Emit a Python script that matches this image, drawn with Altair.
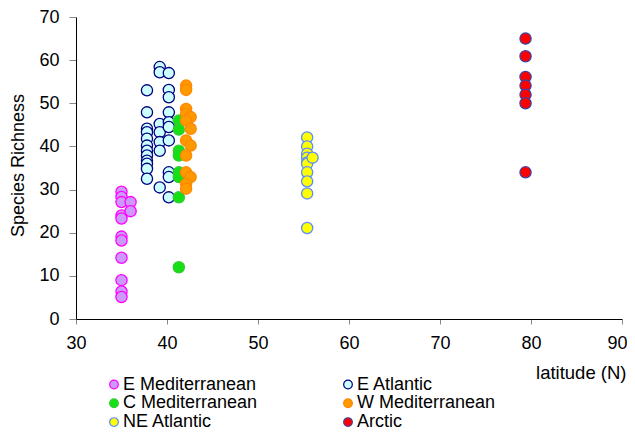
import altair as alt
import pandas as pd

regions = ["E Mediterranean", "E Atlantic", "C Mediterranean",
           "W Mediterranean", "NE Atlantic", "Arctic"]
fills = ["#CC99FF", "#CCFFFF", "#14E014", "#FF9900", "#FFFF00", "#FF0000"]
strokes = ["#FF00FF", "#000080", "#33CC33", "#FF8800", "#5B8CFF", "#4040A0"]
# legend is laid out column by column (3 rows, 2 columns)
legend_order = ["E Mediterranean", "C Mediterranean", "NE Atlantic",
                "E Atlantic", "W Mediterranean", "Arctic"]

e_med_lat = [35.0] * 11 + [36.0, 36.0]
e_med_sr = [29.5, 28.3, 27.1, 24.0, 23.3, 19.1, 18.2, 14.2, 9.0, 6.4, 5.1, 27.1, 25.0]

e_atl_lat = [37.8] * 12 + [39.2] * 7 + [40.2] * 10
e_atl_sr = [53.0, 47.9, 44.1, 43.3, 41.8, 40.2, 39.0, 37.9, 36.7, 36.0, 34.8, 32.5,
            58.4, 57.2, 45.2, 43.3, 41.0, 39.0, 30.5,
            57.0, 53.1, 51.4, 47.9, 45.6, 44.5, 41.4, 34.0, 32.9, 28.2]

c_med_lat = [41.3] * 8
c_med_sr = [46.0, 43.9, 39.0, 37.9, 34.0, 32.9, 28.2, 12.0]

w_med_lat = [42.1, 42.1, 42.1, 42.1, 42.6, 42.1, 42.6, 42.1, 42.6, 42.1, 42.1, 42.6, 42.1, 42.1]
w_med_sr = [54.1, 53.1, 48.7, 47.6, 46.8, 46.0, 44.1, 41.4, 40.2, 37.9, 34.0, 32.9, 31.3, 30.2]

ne_atl_lat = [55.4] * 10 + [56.0]
ne_atl_sr = [42.1, 40.0, 38.3, 37.4, 36.3, 36.0, 34.0, 31.9, 29.1, 21.1, 37.4]

arctic_lat = [79.4] * 7
arctic_sr = [65.0, 60.9, 56.1, 54.1, 52.0, 50.0, 34.0]

series = [
    (regions[0], e_med_lat, e_med_sr),
    (regions[1], e_atl_lat, e_atl_sr),
    (regions[2], c_med_lat, c_med_sr),
    (regions[3], w_med_lat, w_med_sr),
    (regions[4], ne_atl_lat, ne_atl_sr),
    (regions[5], arctic_lat, arctic_sr),
]
rows = []
for order, (name, lats, srs) in enumerate(series):
    for la, s in zip(lats, srs):
        rows.append({"region": name, "lat": la, "sr": s, "order": order})
df = pd.DataFrame(rows)

fill_range = [fills[regions.index(r)] for r in legend_order]
stroke_range = [strokes[regions.index(r)] for r in legend_order]

FONT = "Liberation Sans"

legend = alt.Legend(
    title=None, orient="none", legendX=29, legendY=358.5, columns=2,
    columnPadding=81, rowPadding=0.8, symbolType="circle", symbolSize=75,
    symbolStrokeWidth=1.2, labelFontSize=18, labelFont=FONT, labelColor="#000",
    labelOffset=0, padding=0, labelLimit=300,
)

chart = alt.Chart(df).mark_circle(size=125, opacity=1, strokeWidth=1.3).encode(
    x=alt.X("lat:Q", scale=alt.Scale(domain=[30, 90], nice=False),
            axis=alt.Axis(values=[30, 40, 50, 60, 70, 80, 90], title="latitude (N)",
                          titleX=550, titleY=59, titleAlign="right",
                          titleBaseline="alphabetic", titleAnchor="end",
                          titleFontSize=18.5, titleFontWeight="normal", titleFont=FONT,
                          labelFontSize=18, labelFont=FONT, labelColor="#000",
                          labelFlush=False, labelOverlap=False,
                          labelOffset=alt.ExprRef(expr="datum.value == 90 ? -5 : 0"),
                          labelPadding=10, tickSize=5, tickColor="#888",
                          domainColor="#000", grid=False)),
    y=alt.Y("sr:Q", scale=alt.Scale(domain=[0, 70], nice=False),
            axis=alt.Axis(values=[0, 10, 20, 30, 40, 50, 60, 70], title="Species Richness",
                          titleFontSize=18, titleFontWeight="normal", titleFont=FONT,
                          titleX=-53, titleY=148, titleAngle=270, titleAlign="center",
                          titleBaseline="alphabetic",
                          labelFontSize=18, labelFont=FONT, labelColor="#000",
                          labelFlush=False, labelOverlap=False,
                          labelPadding=10, tickSize=7, tickColor="#888",
                          domainColor="#000", grid=False)),
    fill=alt.Fill("region:N", scale=alt.Scale(domain=legend_order, range=fill_range),
                  legend=legend),
    stroke=alt.Stroke("region:N", scale=alt.Scale(domain=legend_order, range=stroke_range),
                      legend=legend),
    order=alt.Order("order:Q"),
).properties(
    width=546, height=302,
    autosize=alt.AutoSizeParams(type="none"),
    padding={"left": 68, "top": 9, "right": 5, "bottom": 112},
).configure_view(stroke=None).configure_axis(domainWidth=1, tickWidth=1)

chart.save("out.html", embed_options={"renderer": "svg", "actions": False})
